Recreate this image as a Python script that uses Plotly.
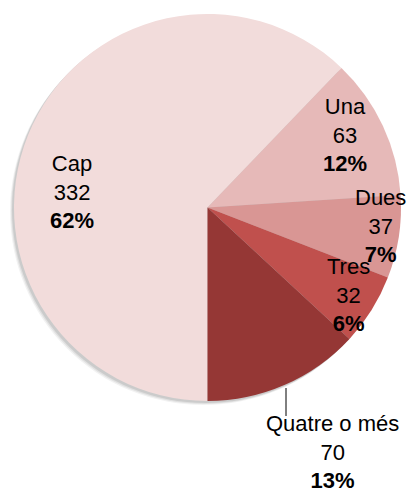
import plotly.graph_objects as go

# Number of items per household
categories = ["Cap", "Una", "Dues", "Tres", "Quatre o més"]
counts = [332, 63, 37, 32, 70]
colors = ["#F2DCDB", "#E6B9B8", "#D99694", "#C0504D", "#953735"]

# Label anchor points in pixels (x, y from top)
label_px = [(72, 192), (345, 135), (380, 226), (348, 295), (332, 452)]

W, H = 411, 492
total = sum(counts)

# Pie placement (pixels)
left, right, top, bottom = 12, 403, 14, 401

fig = go.Figure()

# soft drop shadow built from a few offset translucent discs
for off, alpha in [(4, 0.05), (3, 0.07), (2, 0.09)]:
    fig.add_trace(go.Pie(
        values=[1], labels=["s"], marker=dict(colors=[f"rgba(0,0,0,{alpha})"], line=dict(width=0)),
        textinfo="none", hoverinfo="skip", sort=False, showlegend=False,
        domain=dict(x=[(left - off) / W, (right - off) / W],
                    y=[1 - (bottom + off) / H, 1 - (top + off) / H]),
    ))

fig.add_trace(go.Pie(
    labels=categories,
    values=counts,
    sort=False,
    direction="clockwise",
    rotation=180,
    marker=dict(colors=colors, line=dict(width=0)),
    textinfo="none",
    hoverinfo="label+value+percent",
    showlegend=False,
    domain=dict(x=[left / W, right / W], y=[1 - bottom / H, 1 - top / H]),
))

for cat, val, (px, py) in zip(categories, counts, label_px):
    pct = round(100 * val / total)
    fig.add_annotation(
        x=px / W, y=1 - py / H, xref="paper", yref="paper",
        text=f"{cat}<br>{val}<br><b>{pct}%</b>",
        showarrow=False, xanchor="center", yanchor="middle",
        font=dict(family="Liberation Sans, Arial, sans-serif", size=22, color="black"),
        align="center", borderpad=0,
    )

# leader line for the outside label
fig.add_shape(type="line", xref="paper", yref="paper",
              x0=286 / W, x1=286 / W, y0=1 - 388 / H, y1=1 - 416 / H,
              line=dict(color="black", width=1))

fig.update_layout(
    width=W, height=H,
    margin=dict(l=0, r=0, t=0, b=0),
    paper_bgcolor="white", plot_bgcolor="white",
)

fig.write_html("out.html")
